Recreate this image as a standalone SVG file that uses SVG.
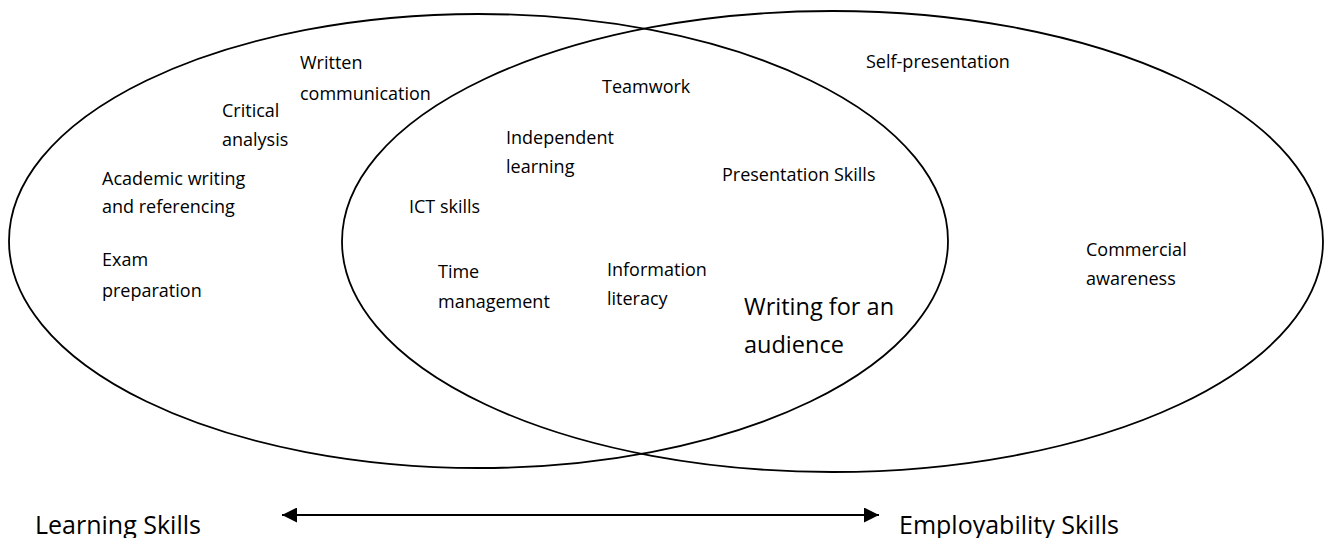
<svg xmlns="http://www.w3.org/2000/svg" width="1330" height="538" viewBox="0 0 1330 538">
  <style>
    .ring { fill: none; stroke: #000; stroke-width: 1.8; }
    .lbl { font-family: "Open Sans", "Liberation Sans", sans-serif; font-size: 18px; fill: #000; }
    .big { font-family: "Open Sans", "Liberation Sans", sans-serif; font-size: 23.5px; fill: #000; }
    .axis { font-family: "Open Sans", "Liberation Sans", sans-serif; font-size: 25px; fill: #000; }
    .link { stroke: #000; stroke-width: 2.2; fill: none; }
  </style>
  <defs>
    <marker id="head" markerUnits="userSpaceOnUse" markerWidth="16" markerHeight="15" refX="15" refY="7.5" orient="auto-start-reverse">
      <path d="M0,0 L15,7.5 L0,15 Z" fill="#000"/>
    </marker>
  </defs>
  <rect width="1330" height="538" fill="#fff"/>

  <!-- Learning skills set -->
  <g id="learning-set">
    <ellipse class="ring" cx="478.5" cy="241" rx="469.5" ry="227"/>
    <text class="lbl" x="300" y="69">Written</text>
    <text class="lbl" x="300" y="100">communication</text>
    <text class="lbl" x="222" y="117">Critical</text>
    <text class="lbl" x="222" y="146">analysis</text>
    <text class="lbl" x="102" y="185">Academic writing</text>
    <text class="lbl" x="102" y="213">and referencing</text>
    <text class="lbl" x="102" y="266">Exam</text>
    <text class="lbl" x="102" y="297">preparation</text>
  </g>

  <!-- Employability skills set -->
  <g id="employability-set">
    <ellipse class="ring" cx="832.5" cy="241.5" rx="490.5" ry="230.5"/>
    <text class="lbl" x="866" y="68">Self-presentation</text>
    <text class="lbl" x="1086" y="256">Commercial</text>
    <text class="lbl" x="1086" y="285">awareness</text>
  </g>

  <!-- Shared skills in the overlap -->
  <g id="overlap">
    <text class="lbl" x="602" y="93">Teamwork</text>
    <text class="lbl" x="506" y="144">Independent</text>
    <text class="lbl" x="506" y="173">learning</text>
    <text class="lbl" x="722" y="181">Presentation Skills</text>
    <text class="lbl" x="409" y="213">ICT skills</text>
    <text class="lbl" x="438" y="278">Time</text>
    <text class="lbl" x="438" y="308">management</text>
    <text class="lbl" x="607" y="276">Information</text>
    <text class="lbl" x="607" y="305">literacy</text>
    <text class="big" x="744" y="315">Writing for an</text>
    <text class="big" x="744" y="353">audience</text>
  </g>

  <!-- Axis labels -->
  <g id="learning-label">
    <text class="axis" x="35" y="534">Learning Skills</text>
  </g>
  <g id="employability-label">
    <text class="axis" x="899" y="534">Employability Skills</text>
  </g>

  <!-- Spectrum arrow -->
  <g id="connectors">
    <line class="link" x1="282" y1="515" x2="879" y2="515" marker-start="url(#head)" marker-end="url(#head)"/>
  </g>
</svg>
